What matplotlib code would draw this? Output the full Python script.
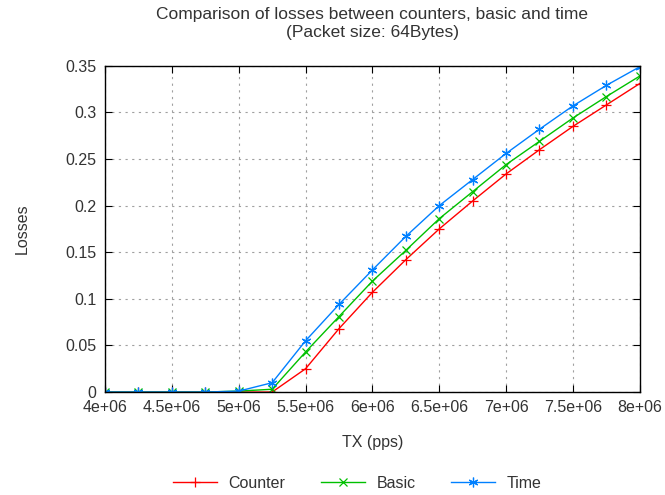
import numpy as np
import matplotlib
matplotlib.use('Agg')
import matplotlib.pyplot as plt

plt.rcParams['font.family'] = ['Liberation Sans', 'DejaVu Sans']

tx = [4.0e6, 4.25e6, 4.5e6, 4.75e6, 5.0e6, 5.25e6, 5.5e6, 5.75e6, 6.0e6,
      6.25e6, 6.5e6, 6.75e6, 7.0e6, 7.25e6, 7.5e6, 7.75e6, 8.0e6]
counter = [0, 0, 0, 0, 0, 0, 0.025, 0.068, 0.107, 0.142, 0.175, 0.205,
           0.234, 0.260, 0.285, 0.308, 0.331]
basic = [0, 0, 0, 0, 0.001, 0.003, 0.043, 0.081, 0.119, 0.152, 0.186, 0.215,
         0.244, 0.269, 0.294, 0.317, 0.339]
time_ = [0, 0, 0, 0, 0.001, 0.010, 0.055, 0.094, 0.131, 0.167, 0.200, 0.228,
         0.256, 0.282, 0.307, 0.329, 0.349]

xticks = [4.0e6, 4.5e6, 5.0e6, 5.5e6, 6.0e6, 6.5e6, 7.0e6, 7.5e6, 8.0e6]
xticklabels = ['4e+06', '4.5e+06', '5e+06', '5.5e+06', '6e+06', '6.5e+06',
               '7e+06', '7.5e+06', '8e+06']
yticks = [0, 0.05, 0.1, 0.15, 0.2, 0.25, 0.3, 0.35]
yticklabels = ['0', '0.05', '0.1', '0.15', '0.2', '0.25', '0.3', '0.35']

txt = '#333333'
fs = 11.5
fig = plt.figure(figsize=(6.65, 4.95), dpi=100)
ax = fig.add_axes([0.158, 0.208, 0.804, 0.659])

ax.plot(tx, counter, color='#ff0000', lw=1, marker='+', ms=7, mew=0.9, label='Counter')
ax.plot(tx, basic, color='#00c000', lw=1, marker='x', ms=5.5, mew=0.9, label='Basic')
ax.plot(tx, time_, color='#0080ff', lw=1, marker=(6, 2, 0), ms=7, mew=0.9, label='Time')

ax.set_xlim(4.0e6, 8.0e6)
ax.set_ylim(0, 0.35)
ax.set_xticks(xticks)
ax.set_xticklabels(xticklabels)
ax.set_yticks(yticks)
ax.set_yticklabels(yticklabels)
ax.tick_params(direction='in', top=True, right=True, length=5, labelsize=fs,
               labelcolor=txt, pad=6)
ax.grid(True, color='#a0a0a0', linestyle=(0, (2, 4)), lw=0.8)
for s in ax.spines.values():
    s.set_color('#000000')
    s.set_linewidth(1)

ax.set_xlabel('TX (pps)', fontsize=fs, color=txt, labelpad=14)
ax.set_ylabel('Losses', fontsize=fs, color=txt, labelpad=26)
ax.set_title('Comparison of losses between counters, basic and time\n(Packet size: 64Bytes)',
             fontsize=12.5, color=txt, pad=21, linespacing=1.25)

fig.legend(loc='lower center', bbox_to_anchor=(0.537, -0.02), ncol=3, frameon=False,
           fontsize=fs, handlelength=2.8, handletextpad=0.7, columnspacing=2.2,
           labelcolor=txt)

fig.savefig('out.png', dpi=100)
